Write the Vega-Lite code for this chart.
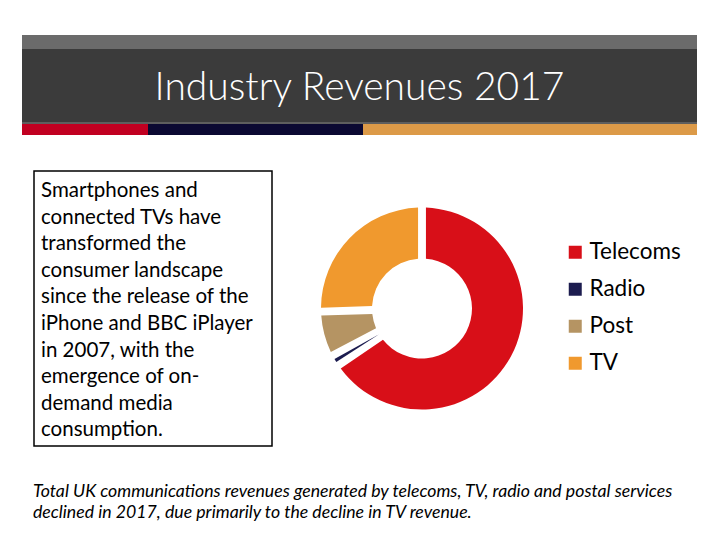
{
  "$schema": "https://vega.github.io/schema/vega-lite/v6.json",
  "background": "white",
  "padding": {"left": 22, "top": 35, "right": 0, "bottom": 0},
  "config": {
    "view": {"stroke": null},
    "font": "Lato"
  },
  "title": {
    "text": ["Total UK communications revenues generated by telecoms, TV, radio and postal services", "declined in 2017, due primarily to the decline in TV revenue."],
    "orient": "bottom",
    "anchor": "start",
    "dx": 11,
    "offset": 36,
    "font": "Lato",
    "fontSize": 17.7,
    "fontStyle": "italic",
    "fontWeight": "normal",
    "color": "#000000",
    "lineHeight": 21
  },
  "spacing": 35,
  "vconcat": [
    {
      "spacing": 0,
      "vconcat": [
        {
          "width": 675, "height": 14,
          "view": {"fill": "#6b6b6b", "stroke": null},
          "data": {"values": [{"label": ""}]},
          "mark": {"type": "text", "fontSize": 0},
          "encoding": {"text": {"field": "label"}}
        },
        {
          "width": 675, "height": 73,
          "view": {"fill": "#3b3b3b", "stroke": null},
          "data": {"values": [{"label": "Industry Revenues 2017"}]},
          "mark": {"type": "text", "color": "white", "fontSize": 39, "font": "Lato", "fontWeight": 300, "baseline": "middle", "align": "center", "dy": 2},
          "encoding": {"text": {"field": "label"}}
        },
        {
          "width": 675, "height": 2,
          "view": {"fill": "#5e5e5e", "stroke": null},
          "data": {"values": [{"label": ""}]},
          "mark": {"type": "text", "fontSize": 0},
          "encoding": {"text": {"field": "label"}}
        },
        {
          "spacing": 0,
          "hconcat": [
            {
              "width": 126, "height": 11,
              "view": {"fill": "#c10021", "stroke": null},
              "data": {"values": [{"label": ""}]},
              "mark": {"type": "text", "fontSize": 0},
              "encoding": {"text": {"field": "label"}}
            },
            {
              "width": 215, "height": 11,
              "view": {"fill": "#0b0932", "stroke": null},
              "data": {"values": [{"label": ""}]},
              "mark": {"type": "text", "fontSize": 0},
              "encoding": {"text": {"field": "label"}}
            },
            {
              "width": 334, "height": 11,
              "view": {"fill": "#dc9a48", "stroke": null},
              "data": {"values": [{"label": ""}]},
              "mark": {"type": "text", "fontSize": 0},
              "encoding": {"text": {"field": "label"}}
            }
          ]
        }
      ]
    },
    {
      "spacing": 10,
      "hconcat": [
        {
          "width": 1, "height": 1,
          "data": {"values": [{"label": ""}]},
          "mark": {"type": "text", "fontSize": 0},
          "encoding": {"text": {"field": "label"}}
        },
        {
          "width": 238, "height": 275,
          "view": {"stroke": "#000000", "strokeWidth": 1.5, "fill": "white"},
          "data": {"values": [{"label": ["Smartphones and", "connected TVs have", "transformed the", "consumer landscape", "since the release of the", "iPhone and BBC iPlayer", "in 2007, with the", "emergence of on-", "demand media", "consumption."]}]},
          "mark": {"type": "text", "align": "left", "baseline": "top", "fontSize": 20.5, "lineHeight": 26.6, "font": "Lato", "color": "#000000"},
          "encoding": {
            "text": {"field": "label"},
            "x": {"value": 7},
            "y": {"value": 10}
          }
        },
        {
          "width": 278, "height": 275,
          "data": {"values": [
            {"segment": "Telecoms", "share": 65.5, "rank": 1},
            {"segment": "Radio", "share": 1.8, "rank": 2},
            {"segment": "Post", "share": 7.2, "rank": 3},
            {"segment": "TV", "share": 25.5, "rank": 4}
          ]},
          "mark": {"type": "arc", "innerRadius": 50, "outerRadius": 101, "padAngle": 0.07},
          "encoding": {
            "theta": {"field": "share", "type": "quantitative", "stack": true},
            "order": {"field": "rank", "type": "quantitative"},
            "color": {
              "field": "segment", "type": "nominal",
              "scale": {"domain": ["Telecoms", "Radio", "Post", "TV"], "range": ["#d80f18", "#1c1c4f", "#b59463", "#f0992e"]},
              "legend": {
                "title": null, "orient": "none", "legendX": 542, "legendY": 206,
                "symbolType": "square", "symbolSize": 169, "symbolStrokeWidth": 0,
                "labelFontSize": 22.5, "labelFont": "Lato", "labelColor": "#000000",
                "labelOffset": 3, "rowPadding": 14
              }
            }
          }
        }
      ]
    }
  ]
}
